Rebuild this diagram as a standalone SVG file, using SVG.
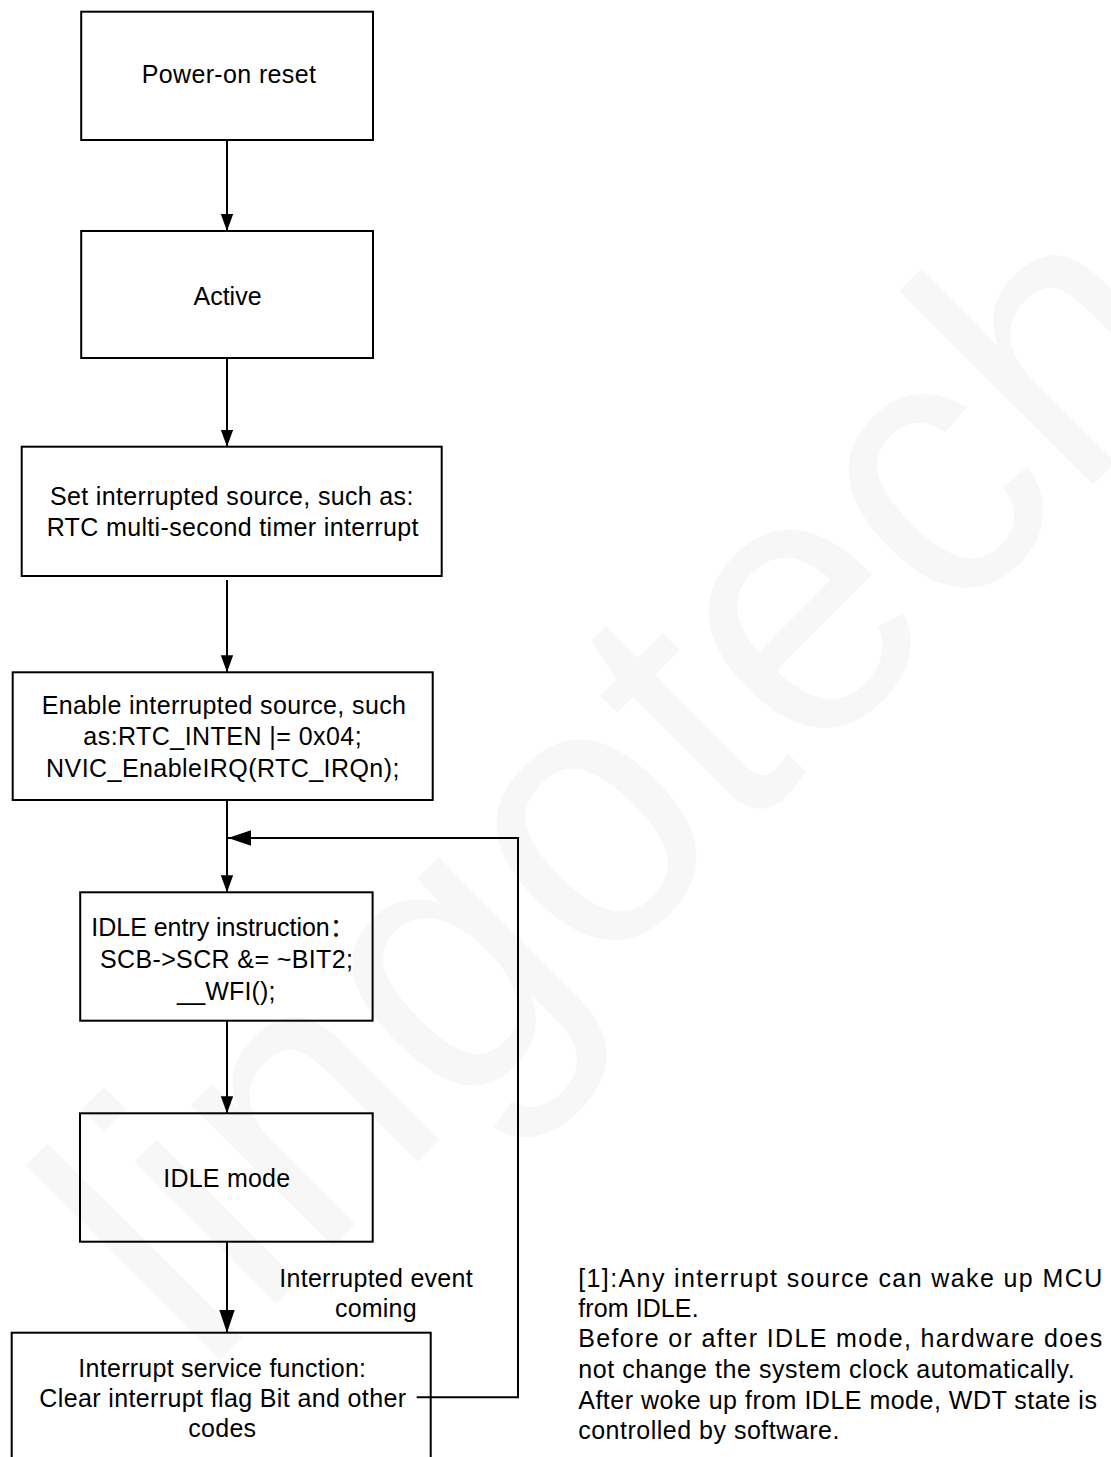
<svg xmlns="http://www.w3.org/2000/svg" width="1111" height="1457" viewBox="0 0 1111 1457">
  <style>
    .box { fill: none; stroke: #000; stroke-width: 2; }
    .lbl { font-family: "Liberation Sans", Arial, "Noto Sans CJK SC", sans-serif; font-size: 25px; fill: #000; text-anchor: middle; }
    .note { font-family: "Liberation Sans", Arial, sans-serif; font-size: 25px; fill: #000; }
    .wire { fill: none; stroke: #000; stroke-width: 2; }
    .wm { font-family: "Liberation Sans", Arial, sans-serif; font-size: 100px; fill: #f7f7f7; }
  </style>
  <defs>
    <marker id="arrow-s" markerUnits="userSpaceOnUse" markerWidth="18" markerHeight="14" refX="17" refY="6.2" orient="auto">
      <path d="M0,0 L17,6.2 L0,12.4 Z" fill="#000"/>
    </marker>
    <marker id="arrow-l" markerUnits="userSpaceOnUse" markerWidth="24" markerHeight="17" refX="23" refY="7.8" orient="auto">
      <path d="M0,0 L23,7.8 L0,15.6 Z" fill="#000"/>
    </marker>
  </defs>

  <rect width="1111" height="1457" fill="#fff"/>

  <!-- background watermark -->
  <text class="wm" transform="matrix(2.533 -2.537 2.68 2.675 202.7 1376.6)">lingotech</text>

  <g id="connectors">
    <path class="wire" d="M227,140 V231" marker-end="url(#arrow-s)"/>
    <path class="wire" d="M227,358 V446.7" marker-end="url(#arrow-s)"/>
    <path class="wire" d="M227,580 V672.3" marker-end="url(#arrow-s)"/>
    <path class="wire" d="M227,800 V892.3" marker-end="url(#arrow-s)"/>
    <path class="wire" d="M227,1020.7 V1113.3" marker-end="url(#arrow-s)"/>
    <path class="wire" d="M227,1241.7 V1332.7" marker-end="url(#arrow-l)"/>
    <path class="wire" d="M416.7,1397.3 H518 V838 H228" marker-end="url(#arrow-l)"/>
    <g id="event-label">
      <text class="lbl" x="376" y="1286.7" textLength="193.3">Interrupted event</text>
      <text class="lbl" x="375.8" y="1317.3" textLength="81.7">coming</text>
    </g>
  </g>

  <g id="power-on-reset">
    <rect class="box" x="81.2" y="11.7" width="291.8" height="128.3"/>
    <text class="lbl" x="228.8" y="83.3" textLength="174.3">Power-on reset</text>
  </g>

  <g id="active">
    <rect class="box" x="81.2" y="231" width="291.8" height="127"/>
    <text class="lbl" x="227.5" y="305">Active</text>
  </g>

  <g id="set-source">
    <rect class="box" x="21.7" y="446.7" width="420" height="129.3"/>
    <text class="lbl" x="231.7" y="505" textLength="363.3">Set interrupted source, such as:</text>
    <text class="lbl" x="232.5" y="535.7" textLength="371.7">RTC multi-second timer interrupt</text>
  </g>

  <g id="enable-source">
    <rect class="box" x="12.7" y="672.3" width="420" height="127.7"/>
    <text class="lbl" x="223.8" y="713.5" textLength="364.3">Enable interrupted source, such</text>
    <text class="lbl" x="222.5" y="744.7" textLength="278.3">as:RTC_INTEN |= 0x04;</text>
    <text class="lbl" x="222.7" y="777" textLength="353.3">NVIC_EnableIRQ(RTC_IRQn);</text>
  </g>

  <g id="idle-entry">
    <rect class="box" x="80.2" y="892.3" width="292.4" height="128.4"/>
    <text class="lbl" x="223" y="935.7" textLength="263.4">IDLE entry instruction：</text>
    <text class="lbl" x="226.4" y="967.5" textLength="253">SCB-&gt;SCR &amp;= ~BIT2;</text>
    <text class="lbl" x="226.3" y="999.5" textLength="98.5">__WFI();</text>
  </g>

  <g id="idle-mode">
    <rect class="box" x="80" y="1113.3" width="292.7" height="128.4"/>
    <text class="lbl" x="226.7" y="1186.7" textLength="126.7">IDLE mode</text>
  </g>

  <g id="interrupt-service">
    <rect class="box" x="11.7" y="1332.7" width="419" height="140"/>
    <text class="lbl" x="222.2" y="1376.7" textLength="287.7">Interrupt service function:</text>
    <text class="lbl" x="222.7" y="1407.3" textLength="366.7">Clear interrupt flag Bit and other</text>
    <text class="lbl" x="222.2" y="1437.3" textLength="67.7">codes</text>
  </g>

  <g id="note">
    <text class="note" x="578.2" y="1286.5" textLength="524">[1]:Any interrupt source can wake up MCU</text>
    <text class="note" x="578.2" y="1316.5" textLength="120.4">from IDLE.</text>
    <text class="note" x="578.2" y="1347" textLength="524">Before or after IDLE mode, hardware does</text>
    <text class="note" x="578.2" y="1377.5" textLength="496.4">not change the system clock automatically.</text>
    <text class="note" x="578.2" y="1408.5" textLength="518.7">After woke up from IDLE mode, WDT state is</text>
    <text class="note" x="578.2" y="1439" textLength="261.2">controlled by software.</text>
  </g>
</svg>
